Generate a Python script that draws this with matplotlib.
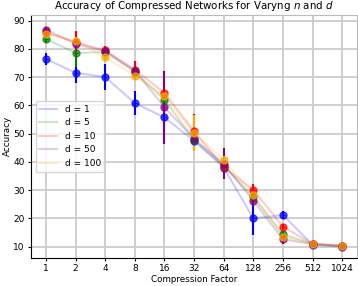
import matplotlib
matplotlib.use("Agg")
import matplotlib.pyplot as plt
import numpy as np
from matplotlib.colors import to_rgba

factors = ["1", "2", "4", "8", "16", "32", "64", "128", "256", "512", "1024"]
labels = ["d = 1", "d = 5", "d = 10", "d = 50", "d = 100"]
colors = ["blue", "green", "red", "purple", "orange"]

acc_d1 = [76.4, 71.5, 70.0, 60.8, 55.7, 47.5, 38.0, 20.0, 21.2, 10.7, 10.0]
acc_d5 = [83.5, 78.5, 78.9, 71.8, 62.0, 47.8, 38.5, 27.5, 14.4, 11.0, 10.2]
acc_d10 = [85.8, 82.3, 79.5, 72.6, 64.4, 50.8, 38.1, 30.1, 17.1, 11.0, 10.4]
acc_d50 = [86.8, 81.8, 79.1, 72.3, 59.3, 48.2, 39.3, 26.3, 12.6, 10.9, 10.2]
acc_d100 = [85.4, 82.7, 77.0, 70.5, 63.2, 50.2, 40.7, 28.3, 13.5, 10.9, 10.2]

err_d1 = [2.0, 3.5, 4.5, 4.2, 4.0, 1.0, 1.0, 6.0, 1.5, 0.5, 0.3]
err_d5 = [1.0, 5.0, 1.0, 1.5, 1.5, 1.0, 1.0, 1.5, 1.0, 0.4, 0.3]
err_d10 = [1.0, 4.0, 1.5, 3.0, 2.0, 6.0, 1.0, 2.0, 1.0, 0.4, 0.3]
err_d50 = [1.0, 1.5, 1.5, 1.5, 13.0, 1.0, 5.5, 2.0, 1.5, 0.4, 0.3]
err_d100 = [1.0, 1.5, 1.0, 1.5, 1.5, 6.5, 1.5, 1.5, 1.0, 0.4, 0.3]

accs = [acc_d1, acc_d5, acc_d10, acc_d50, acc_d100]
errs = [err_d1, err_d5, err_d10, err_d50, err_d100]

x = np.arange(len(factors))

fig, ax = plt.subplots(figsize=(3.58, 2.86), dpi=100)
fig.subplots_adjust(left=0.087, right=0.997, top=0.948, bottom=0.098)

for acc, err, c, lab in zip(accs, errs, colors, labels):
    ax.plot(x, acc, color=c, alpha=0.2, linewidth=1.5, label=lab)
    ax.errorbar(x, acc, yerr=err, fmt='o', color=c, markersize=5,
                markerfacecolor=to_rgba(c, 0.7), markeredgewidth=1.0,
                elinewidth=1.5, capsize=0)
    ax.plot(x, acc, '+', color=c, markersize=3.5, markeredgewidth=0.7)

ax.set_xticks(x)
ax.set_xticklabels(factors)
ax.set_xlim(-0.5, 10.5)
ax.set_ylim(6, 92)
ax.set_yticks([10, 20, 30, 40, 50, 60, 70, 80, 90])
ax.tick_params(labelsize=6.5, length=2.5, pad=2)
ax.grid(True, color="#cccccc", linewidth=1.3)
ax.set_axisbelow(True)
for s in ["top", "right"]:
    ax.spines[s].set_color("#bbbbbb")
ax.set_xlabel("Compression Factor", fontsize=6.3, labelpad=1)
ax.set_ylabel("Accuracy", fontsize=6.3, labelpad=1)
ax.set_title("Accuracy of Compressed Networks for Varyng $n$ and $d$", fontsize=7.4, pad=4)
ax.legend(loc="center left", fontsize=6.5, framealpha=0.8, handlelength=2.0)

fig.savefig("out.png")
